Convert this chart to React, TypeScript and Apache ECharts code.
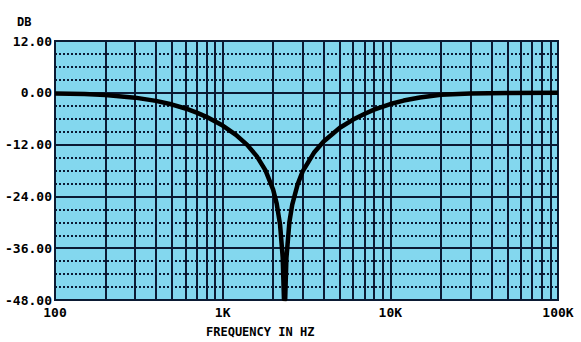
import React, { useEffect, useRef } from "react";
import * as echarts from "echarts";

// Frequency response (Hz, dB)
const freqs = [100, 150, 200, 300, 400, 500, 600, 700, 800, 1000, 1200, 1400, 1600, 1800, 2000, 2100, 2200, 2280, 2320, 2340, 2360, 2400, 2500, 2600, 2800, 3000, 3500, 4000, 5000, 6000, 7000, 8000, 10000, 12000, 15000, 20000, 30000, 50000, 100000];
const gainDb = [-0.14, -0.3, -0.53, -1.12, -1.87, -2.72, -3.63, -4.59, -5.57, -7.59, -9.73, -12.06, -14.72, -17.97, -22.44, -25.68, -30.57, -38.1, -47.7, -48, -47.8, -38.3, -29.96, -25.9, -21.2, -18.2, -13.9, -11.3, -8.1, -6.2, -4.9, -3.9, -2.6, -1.8, -1.1, -0.45, -0.15, -0.05, 0];

// Tick labels
const xTickValues = [100, 1000, 10000, 100000];
const xTickLabels = ["100", "1K", "10K", "100K"];
const yMin = -48;
const yMax = 12;
const yStep = 12;

// Intermediate vertical grid lines (2..9 × each decade)
const minorFreqs = [200, 300, 400, 500, 600, 700, 800, 900, 2000, 3000, 4000, 5000, 6000, 7000, 8000, 9000, 20000, 30000, 40000, 50000, 60000, 70000, 80000, 90000];

const yAxisTitle = "DB";
const xAxisTitle = "FREQUENCY IN HZ";

const FONT = "'DejaVu Sans Mono', 'Liberation Mono', monospace";
const GRID_COLOR = "#0b1a33";

export default function App() {
  const ref = useRef<HTMLDivElement>(null);
  useEffect(() => {
    if (!ref.current) return;
    const chart = echarts.init(ref.current, null, { renderer: "svg" });
    const data = freqs.map((f, i) => [f, gainDb[i]]);
    chart.setOption({
      animation: false,
      backgroundColor: "#ffffff",
      grid: {
        left: 55,
        right: 23,
        top: 41,
        bottom: 42,
        show: true,
        backgroundColor: "#83d7ee",
        borderColor: GRID_COLOR,
        borderWidth: 2,
      },
      graphic: [
        {
          type: "text",
          left: 17,
          top: 16,
          style: { text: yAxisTitle, font: `bold 12px ${FONT}`, fill: "#000" },
        },
        {
          type: "text",
          left: 206,
          top: 326,
          style: { text: xAxisTitle, font: `bold 12px ${FONT}`, fill: "#000" },
        },
      ],
      xAxis: {
        type: "log",
        logBase: 10,
        min: 100,
        max: 100000,
        axisLine: { show: false },
        axisTick: { show: false },
        axisLabel: {
          margin: 6,
          color: "#000",
          fontFamily: FONT,
          fontWeight: "bold",
          fontSize: 13,
          formatter: (v: number) => {
            const i = xTickValues.findIndex((t) => Math.abs(t - v) / t < 1e-6);
            return i >= 0 ? xTickLabels[i] : "";
          },
        },
        splitLine: { show: true, lineStyle: { color: GRID_COLOR, width: 2 } },
      },
      yAxis: {
        type: "value",
        min: yMin,
        max: yMax,
        interval: yStep,
        axisLine: { show: false },
        axisTick: { show: false },
        axisLabel: {
          margin: 3,
          color: "#000",
          fontFamily: FONT,
          fontWeight: "bold",
          fontSize: 13,
          formatter: (v: number) => v.toFixed(2),
        },
        splitLine: { show: true, lineStyle: { color: GRID_COLOR, width: 2 } },
        minorTick: { show: false, splitNumber: 4 },
        minorSplitLine: {
          show: true,
          lineStyle: { color: GRID_COLOR, width: 2, type: [2, 2] },
        },
      },
      series: [
        {
          type: "line",
          data,
          showSymbol: false,
          smooth: false,
          clip: true,
          lineStyle: { color: "#000", width: 4.5 },
          z: 5,
          markLine: {
            silent: true,
            symbol: ["none", "none"],
            label: { show: false },
            lineStyle: { color: GRID_COLOR, width: 2, type: "solid" },
            data: minorFreqs.map((f) => ({ xAxis: f })),
            z: 2,
          },
        },
      ],
    });
    return () => chart.dispose();
  }, []);
  return (
    <div
      ref={ref}
      style={{ position: "fixed", left: 0, top: 0, width: 581, height: 342 }}
    />
  );
}
